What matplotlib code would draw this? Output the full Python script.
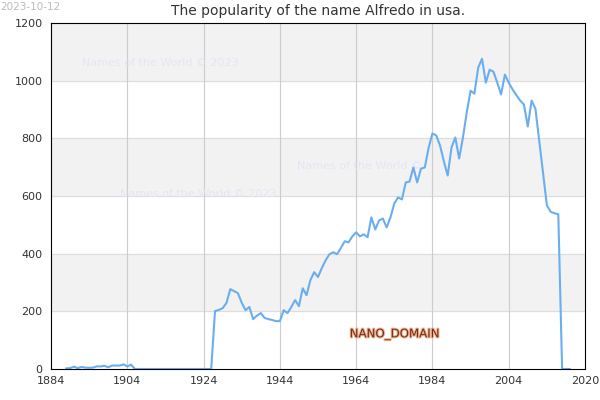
import matplotlib
matplotlib.use("Agg")
import matplotlib.pyplot as plt
import matplotlib.patheffects as pe

years = list(range(1888, 2021))
early = [2, 3, 8, 3, 7, 5, 4, 5, 9, 9, 11, 6, 12, 12, 12, 16, 9, 15]  # 1888-1905
zeros_mid = [0] * 21  # 1906-1926
mid = [201, 205, 211, 229, 277, 270, 263, 230, 204, 215, 173, 185, 194, 177, 173, 170,
       166, 166, 204, 194, 215, 239, 218, 280, 256, 308, 336, 319, 350, 377, 398, 405,
       398, 420, 443, 439, 460, 474, 460, 467, 457, 526, 484, 515, 522, 491, 526, 574,
       595, 588, 647, 650, 699, 647, 695, 699, 767, 817, 810, 775, 720, 671, 768, 803,
       730, 803, 890, 965, 955, 1045, 1076, 993, 1038, 1031, 993, 952, 1021, 993, 970,
       950, 931, 917, 841, 931, 903, 790, 680, 568, 545, 540, 537]  # 1927-2017
late = [0, 0, 0]  # 2018-2020
values = early + zeros_mid + mid + late
years = years[:len(values)]

xticks = [1884, 1904, 1924, 1944, 1964, 1984, 2004, 2024]
xlabels = ["1884", "1904", "1924", "1944", "1964", "1984", "2004", "2020"]
yticks = [0, 200, 400, 600, 800, 1000, 1200]

fig = plt.figure(figsize=(6, 4), dpi=100)
ax = fig.add_axes([0.085, 0.0775, 0.89, 0.865])
ax.set_xlim(1884, 2024)
ax.set_ylim(0, 1200)
for i in range(0, 6):
    if i % 2 == 1:
        ax.axhspan(yticks[i], yticks[i + 1], color="#f2f2f2", zorder=0)
for y in yticks[1:-1]:
    ax.axhline(y, color="#dddddd", lw=0.8, zorder=0.5)
for x in xticks[1:-1]:
    ax.axvline(x, color="#cccccc", lw=0.8, zorder=0.5)
ax.plot(years, values, color="#6aaef0", lw=1.5, zorder=2)
ax.set_xticks(xticks)
ax.set_xticklabels(xlabels)
ax.set_yticks(yticks)
ax.tick_params(length=0, labelsize=8, colors="#333333")
ax.tick_params(axis="y", pad=6)
ax.tick_params(axis="x", pad=5)
for s in ax.spines.values():
    s.set_color("black")
ax.set_title("The popularity of the name Alfredo in usa.", fontsize=10, color="#333333", pad=6)

wm = dict(color="#e4e6f4", fontsize=8, zorder=1)
ax.text(1892, 1050, "Names of the World © 2023", **wm)
ax.text(1948.5, 695, "Names of the World ©", **wm)
ax.text(1902, 595, "Names of the World © 2023", **wm)
ax.text(1974, 122, "NANO_DOMAIN", fontsize=8.5, color="#7a2a10", ha="center", va="center",
        zorder=3, path_effects=[pe.withStroke(linewidth=1.5, foreground="#e8b090")])
fig.text(0.0, 0.995, "2023-10-12", fontsize=7.5, color="#bbbbbb", va="top")
fig.savefig("out.png")
